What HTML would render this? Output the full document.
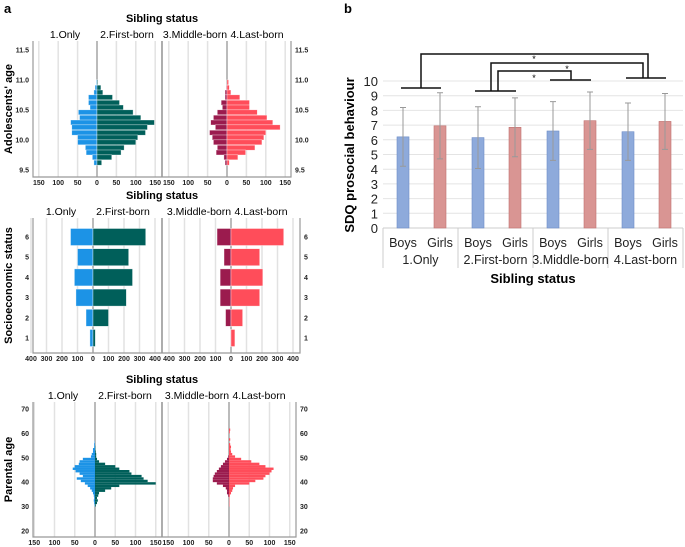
<!DOCTYPE html>
<html><head><meta charset="utf-8"><style>
body{margin:0;background:#fff}
svg{display:block;font-family:"Liberation Sans",Arial,sans-serif}
</style></head><body>
<svg id="fig" width="685" height="547" viewBox="0 0 685 547">
<text x="4" y="13" font-size="13" font-weight="bold">a</text>
<text x="344" y="13" font-size="13" font-weight="bold">b</text>
<g id="pa"></g>
<g id="pb"></g>
</svg>
<script>
// ===== Panel a data =====
const ageBins=[10.92,10.83,10.75,10.67,10.58,10.50,10.42,10.33,10.25,10.17,10.08,10.00,9.92,9.83,9.75,9.67,9.58];
const ageOnly=[2,5,8,22,22,18,48,45,68,65,65,50,50,30,28,12,8];
const ageFirst=[2,10,15,40,58,68,93,113,148,130,125,105,100,70,62,38,12];
const ageMiddle=[0,2,5,5,15,12,25,35,42,30,45,38,35,25,28,8,5];
const ageLast=[4,6,10,33,58,58,78,103,118,137,100,95,90,72,48,28,6];
const ageTicks=[9.5,10.0,10.5,11.0,11.5];
const cntTicks=[150,100,50,0,50,100,150];

const sesCats=[6,5,4,3,2,1];
const sesOnly=[145,100,120,110,45,20];
const sesFirst=[340,230,255,215,100,15];
const sesMiddle=[90,45,70,70,35,3];
const sesLast=[340,185,205,185,75,25];
const sesTicks=[400,300,200,100,0,100,200,300,400];

const parAges=[30,31,32,33,34,35,36,37,38,39,40,41,42,43,44,45,46,47,48,49,50,51,52,53,54,55,56,57,58,59,60,61];
const parOnly=[1,2,3,2,3,5,8,12,18,25,35,45,30,38,48,55,50,40,38,30,10,8,5,5,2,2,1,0,0,0,0,0];
const parFirst=[2,5,7,5,8,10,25,40,60,150,130,120,115,90,85,60,50,25,10,5,3,3,2,1,1,0,0,0,0,0,0,0];
const parMiddle=[0,0,0,0,2,5,5,8,15,30,40,40,38,35,30,25,20,15,10,5,2,0,0,0,0,0,0,0,0,0,0,0];
const parLast=[1,1,1,1,2,5,8,10,15,50,65,85,90,100,105,110,90,75,55,30,15,8,5,4,5,3,0,3,0,0,2,3];
const parTicks=[20,30,40,50,60,70];

// ===== Panel b data =====
const groups=["1.Only","2.First-born","3.Middle-born","4.Last-born"];
const boysMean=[6.2,6.15,6.6,6.55];
const girlsMean=[6.95,6.85,7.3,7.25];
const boysSD=[2.0,2.1,2.0,1.95];
const girlsSD=[2.25,2.0,1.95,1.9];
const sdqTicks=[0,1,2,3,4,5,6,7,8,9,10];

const NS="http://www.w3.org/2000/svg";
function el(p,t,a,txt){const e=document.createElementNS(NS,t);for(const k in a)e.setAttribute(k,a[k]);if(txt!==undefined)e.textContent=txt;p.appendChild(e);return e;}
const C={only:"#1c93e6",first:"#005f5a",middle:"#9b1b4e",last:"#ff4d5a"};

const pa=document.getElementById('pa');
function panel(o){
  const g=el(pa,'g',{});
  
  
  const t=el(g,'text',{x:162,y:o.titleY,'font-size':11,'font-weight':'bold','text-anchor':'middle'},'Sibling status');
  
  
  const subs=[["1.Only",o.z1-32],["2.First-born",o.z1+30],["3.Middle-born",o.z2-32],["4.Last-born",o.z2+30]];
  subs.forEach(s=>{const e=el(g,'text',{x:s[1],y:o.titleY+16,'font-size':10.5,'text-anchor':'middle'},s[0]);
    
    });
  [o.z1,o.z2].forEach(z=>{o.grid.forEach(v=>{[-1,1].forEach(sg=>{el(g,'line',{x1:z+sg*v*o.sx,x2:z+sg*v*o.sx,y1:o.top,y2:o.bot,stroke:'#e2e2e2','stroke-width':1.5});});});
    el(g,'line',{x1:z,x2:z,y1:o.top,y2:o.bot,stroke:'#777','stroke-width':1});});
  el(g,'line',{x1:162,x2:162,y1:o.top,y2:o.bot,stroke:'#777','stroke-width':1.2});
  el(g,'path',{d:`M${o.lx},${o.top} V${o.bot} H${o.rx} V${o.top}`,fill:'none',stroke:'#999','stroke-width':1.2});
  const series=[[o.a,C.only,o.z1,-1],[o.b,C.first,o.z1,1],[o.c,C.middle,o.z2,-1],[o.d,C.last,o.z2,1]];
  series.forEach(s=>{s[0].forEach((v,i)=>{if(!v)return;const y=o.yOf(o.cats[i]);const w=v*o.sx;
    const r=el(g,'rect',{x:s[3]<0?s[2]-w:s[2],y:y,width:w,height:o.bh,fill:s[1],stroke:o.bh>4?'rgba(255,255,255,0.6)':'none','stroke-width':0.6});
    
    });});
  o.yt.forEach(v=>{const y=o.yTick(v);
    const a=el(g,'text',{x:o.lx-4,y:y+2.5,'font-size':7,'font-weight':'bold','text-anchor':'end',fill:'#222'},o.fmt(v));
    
    
    const b=el(g,'text',{x:o.rx+4,y:y+2.5,'font-size':7,'font-weight':'bold',fill:'#222'},o.fmt(v));
    
    });
  const n=o.xt.length,h=(n-1)/2;
  [o.z1,o.z2].forEach(z=>{o.xt.forEach((v,i)=>{const x=z+(i-h)/h*o.xt[0]*o.sx;
    const e=el(g,'text',{x:x,y:o.bot+8,'font-size':7,'font-weight':'bold','text-anchor':'middle',fill:'#222'},v);
    
    });});
  const yt=el(g,'text',{x:0,y:0,'font-size':11,'font-weight':'bold','text-anchor':'middle',transform:`translate(${o.ytx},${(o.top+o.bot)/2}) rotate(-90)`},o.ytitle);
  
  
}
panel({name:'age-pyramid',titleY:22,top:41,bot:177,lx:33,rx:291,z1:97,z2:227,sx:0.388,grid:[50,100,150],
  cats:ageBins,a:ageOnly,b:ageFirst,c:ageMiddle,d:ageLast,bh:5,
  yOf:a=>140-(a+1/12-10)*60,yTick:v=>140-(v-10)*60,yt:ageTicks,fmt:v=>v.toFixed(1),xt:cntTicks,ytx:12,ytitle:"Adolescents' age"});
panel({name:'ses-pyramid',titleY:199,top:218,bot:353,lx:33,rx:300,z1:93,z2:231,sx:0.155,grid:[100,200,300,400],
  cats:sesCats,a:sesOnly,b:sesFirst,c:sesMiddle,d:sesLast,bh:17,
  yOf:s=>237+(6-s)*20.2-8.5,yTick:v=>237+(6-v)*20.2,yt:sesCats,fmt:v=>v,xt:sesTicks,ytx:12,ytitle:"Socioeconomic status"});
panel({name:'parental-age-pyramid',titleY:383,top:402,bot:537,lx:33,rx:296,z1:95,z2:229,sx:0.405,grid:[50,100,150],
  cats:parAges,a:parOnly,b:parFirst,c:parMiddle,d:parLast,bh:2.4,
  yOf:a=>409+(70-a-1)*2.44,yTick:v=>409+(70-v)*2.44,yt:parTicks,fmt:v=>v,xt:cntTicks,ytx:12,ytitle:"Parental age"});

// ===== Panel b =====
const pb=document.getElementById('pb');
const y0=228,ppu=14.7,L=383,R=683,gw=75;
const yS=v=>y0-v*ppu;
sdqTicks.forEach(v=>{if(v>0)el(pb,'line',{x1:L,x2:R,y1:yS(v),y2:yS(v),stroke:'#e4e4e4','stroke-width':1});
  const t=el(pb,'text',{x:378,y:yS(v)+5,'font-size':13,'text-anchor':'end',fill:'#222'},v);
  
  });
el(pb,'line',{x1:L,x2:R,y1:y0,y2:y0,stroke:'#ccc'});
for(let i=0;i<=4;i++)el(pb,'line',{x1:L+i*gw,x2:L+i*gw,y1:y0,y2:268,stroke:'#ccc'});
groups.forEach((gname,i)=>{
  const cx=L+i*gw;
  [[boysMean[i],boysSD[i],'#8eaadb','#6d8cc6','Boys',20],[girlsMean[i],girlsSD[i],'#d99593','#c07270','Girls',57]].forEach(b=>{
    const x=cx+b[5];
    const r=el(pb,'rect',{x:x-6,y:yS(b[0]),width:12,height:b[0]*ppu,fill:b[2],stroke:b[3],'stroke-width':0.6});
    
    
    const e=el(pb,'path',{d:`M${x},${yS(b[0]+b[1])} V${yS(b[0]-b[1])} M${x-3},${yS(b[0]+b[1])} H${x+3} M${x-3},${yS(b[0]-b[1])} H${x+3}`,stroke:'#999',fill:'none','stroke-width':1});
    
    
    const t=el(pb,'text',{x:x,y:247,'font-size':12.5,'text-anchor':'middle',fill:'#222'},b[4]);
    
    
  });
  const t=el(pb,'text',{x:cx+gw/2,y:264,'font-size':12.5,'text-anchor':'middle',fill:'#222'},gname);
  
  
});
const xt=el(pb,'text',{x:533,y:283,'font-size':13,'font-weight':'bold','text-anchor':'middle'},'Sibling status');


const ytb=el(pb,'text',{x:0,y:0,'font-size':13,'font-weight':'bold','text-anchor':'middle',transform:'translate(354,155) rotate(-90)'},'SDQ prosocial behaviour');


const br=el(pb,'path',{d:'M401,88H441M421,88V54H648V78M626,78H666M475,91H516M491,91V63H643V78M498,91V71H571V80M550,80H591',stroke:'#111','stroke-width':1.5,fill:'none'});


[[534,62],[567,72],[534,81]].forEach(p=>{const s=el(pb,'text',{x:p[0],y:p[1],'font-size':9,'text-anchor':'middle'},'*');
  
  });
</script>
</body></html>
